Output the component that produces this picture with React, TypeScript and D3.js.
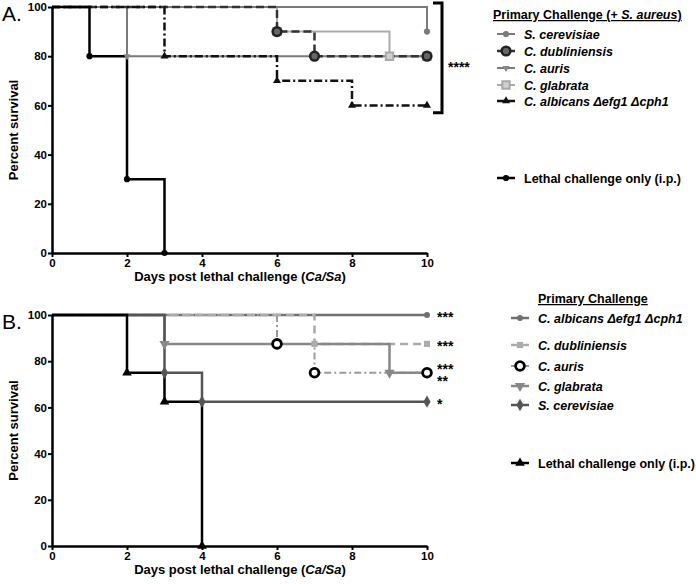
import React, { useEffect, useRef } from "react";
import * as d3 from "d3";

const dayTicks = [0, 2, 4, 6, 8, 10];
const survivalTicks = [0, 20, 40, 60, 80, 100];

// Panel A: day of each event and percent survival after it
const aCerevisiaeDays = [0, 10];
const aCerevisiaeSurv = [100, 90];
const aDublinDays = [0, 6, 7, 10];
const aDublinSurv = [100, 90, 80, 80];
const aAurisDays = [0, 2, 10];
const aAurisSurv = [100, 80, 80];
const aGlabrataDays = [0, 6, 9, 10];
const aGlabrataSurv = [100, 90, 80, 80];
const aAlbicansDays = [0, 3, 6, 8, 10];
const aAlbicansSurv = [100, 80, 70, 60, 60];
const aLethalDays = [0, 1, 2, 3];
const aLethalSurv = [100, 80, 30, 0];

// Panel B
const bAlbicansDays = [0, 10];
const bAlbicansSurv = [100, 100];
const bDublinDays = [0, 7, 10];
const bDublinSurv = [100, 87.5, 87.5];
const bAurisDays = [0, 6, 7, 10];
const bAurisSurv = [100, 87.5, 75, 75];
const bGlabrataDays = [0, 3, 9, 10];
const bGlabrataSurv = [100, 87.5, 75, 75];
const bCerevisiaeDays = [0, 3, 4, 10];
const bCerevisiaeSurv = [100, 75, 62.5, 62.5];
const bLethalDays = [0, 2, 3, 4];
const bLethalSurv = [100, 75, 62.5, 0];

const aNames = ["S. cerevisiae", "C. dubliniensis", "C. auris", "C. glabrata", "C. albicans \u0394efg1 \u0394cph1"];
const bNames = ["C. albicans \u0394efg1 \u0394cph1", "C. dubliniensis", "C. auris", "C. glabrata", "S. cerevisiae"];
const lethalName = "Lethal challenge only (i.p.)";
const bStars = ["***", "***", "***", "**", "*"];
const bStarSurv = [100, 87.5, 75, 75, 62.5];

const FONT = "'Liberation Sans', Arial, sans-serif";

type Series = {
  days: number[];
  surv: number[];
  color: string;
  dash?: string;
  width: number;
  symbol: d3.SymbolType;
  size: number;
  rotate?: number;
  fill: string;
  stroke: string;
  markerWidth: number;
};

const circle = d3.symbolCircle;
const tri = d3.symbolTriangle;

const aSeries: Series[] = [
  { days: aCerevisiaeDays, surv: aCerevisiaeSurv, color: "#7a7a7a", width: 2, symbol: circle, size: 30, fill: "#7a7a7a", stroke: "#7a7a7a", markerWidth: 0 },
  { days: aDublinDays, surv: aDublinSurv, color: "#333", dash: "8,4", width: 2.5, symbol: circle, size: 60, fill: "#666", stroke: "#222", markerWidth: 2.5 },
  { days: aAurisDays, surv: aAurisSurv, color: "#7a7a7a", width: 2, symbol: tri, size: 22, rotate: 180, fill: "#888", stroke: "#888", markerWidth: 0 },
  { days: aGlabrataDays, surv: aGlabrataSurv, color: "#ababab", width: 2, symbol: d3.symbolSquare, size: 55, fill: "#d0d0d0", stroke: "#a8a8a8", markerWidth: 2 },
  { days: aAlbicansDays, surv: aAlbicansSurv, color: "#111", dash: "8,3,2,3", width: 2.5, symbol: tri, size: 28, fill: "#111", stroke: "#111", markerWidth: 0 },
];
const aLethal: Series = { days: aLethalDays, surv: aLethalSurv, color: "#000", width: 2.5, symbol: circle, size: 30, fill: "#000", stroke: "#000", markerWidth: 0 };

const bSeries: Series[] = [
  { days: bAlbicansDays, surv: bAlbicansSurv, color: "#707070", width: 2.5, symbol: circle, size: 28, fill: "#707070", stroke: "#707070", markerWidth: 0 },
  { days: bDublinDays, surv: bDublinSurv, color: "#ababab", dash: "8,5", width: 2.5, symbol: d3.symbolSquare, size: 38, fill: "#ababab", stroke: "#ababab", markerWidth: 0 },
  { days: bAurisDays, surv: bAurisSurv, color: "#9a9a9a", dash: "7,3,2,3", width: 2, symbol: circle, size: 60, fill: "#fff", stroke: "#000", markerWidth: 2.8 },
  { days: bGlabrataDays, surv: bGlabrataSurv, color: "#888", width: 2.5, symbol: tri, size: 45, rotate: 180, fill: "#888", stroke: "#888", markerWidth: 0 },
  { days: bCerevisiaeDays, surv: bCerevisiaeSurv, color: "#555", width: 2.5, symbol: d3.symbolDiamond, size: 45, fill: "#555", stroke: "#555", markerWidth: 0 },
];
const bLethal: Series = { days: bLethalDays, surv: bLethalSurv, color: "#000", width: 2.5, symbol: tri, size: 40, fill: "#000", stroke: "#000", markerWidth: 0 };

// stacking order (indices into the series list, 5 = lethal)
const aLineOrder = [3, 0, 2, 1, 4, 5];
const aMarkerOrder = [3, 0, 2, 4, 1, 5];
const bLineOrder = [0, 2, 1, 3, 4, 5];
const bMarkerOrder = [0, 1, 3, 4, 5, 2];

function drawSymbol(g: any, s: Series, x: number, y: number) {
  g.append("path")
    .attr("d", d3.symbol().type(s.symbol).size(s.size)())
    .attr("transform", `translate(${x},${y}) rotate(${s.rotate || 0})`)
    .attr("fill", s.fill)
    .attr("stroke", s.stroke)
    .attr("stroke-width", s.markerWidth);
}

function drawPanel(svg: any, top: number, bottom: number, series: Series[], lethal: Series, label: string, lineOrder: number[], markerOrder: number[]) {
  const x = d3.scaleLinear().domain([0, 10]).range([52, 427]);
  const y = d3.scaleLinear().domain([0, 100]).range([bottom, top]);
  const g = svg.append("g");

  const all = [...series, lethal];
  lineOrder.forEach((k) => {
    const s = all[k];
    const pts = s.days.map((d, i) => [x(d), y(s.surv[i])] as [number, number]);
    g.append("path")
      .attr("d", d3.line().curve(d3.curveStepAfter)(pts))
      .attr("fill", "none")
      .attr("stroke", s.color)
      .attr("stroke-width", s.width)
      .attr("stroke-dasharray", s.dash || null);
  });
  markerOrder.forEach((k) => {
    const s = all[k];
    s.days.forEach((d, i) => {
      if (i > 0) drawSymbol(g, s, x(d), y(s.surv[i]));
    });
  });

  const yAxis = g
    .append("g")
    .attr("transform", `translate(${x(0)},0)`)
    .call(d3.axisLeft(y).tickValues(survivalTicks).tickSize(4).tickSizeOuter(0));
  const xAxis = g
    .append("g")
    .attr("transform", `translate(0,${y(0)})`)
    .call(d3.axisBottom(x).tickValues(dayTicks).tickSize(4).tickSizeOuter(0));
  [yAxis, xAxis].forEach((ax) => {
    ax.select(".domain").attr("stroke-width", 2.5);
    ax.selectAll(".tick line").attr("stroke-width", 2);
    ax.selectAll("text").attr("font-family", FONT).attr("font-weight", "bold").attr("font-size", 11.5).attr("fill", "#000");
  });
  yAxis.selectAll("text").attr("x", -5);
  xAxis.selectAll("text").attr("y", 6);

  g.append("text")
    .attr("transform", `translate(18,${(top + bottom) / 2}) rotate(-90)`)
    .attr("text-anchor", "middle")
    .attr("font-family", FONT)
    .attr("font-weight", "bold")
    .attr("font-size", 13)
    .text("Percent survival");

  const xt = g
    .append("text")
    .attr("x", 240)
    .attr("y", bottom + 28)
    .attr("text-anchor", "middle")
    .attr("font-family", FONT)
    .attr("font-weight", "bold")
    .attr("font-size", 13);
  xt.append("tspan").text("Days post lethal challenge (");
  xt.append("tspan").attr("font-style", "italic").text("Ca/Sa");
  xt.append("tspan").text(")");

  g.append("text")
    .attr("x", 2)
    .attr("y", top + 14)
    .attr("font-family", FONT)
    .attr("font-size", 21)
    .text(label);

  return { x, y };
}

function drawLegendRow(svg: any, s: Series, x0: number, y0: number, name: string, italic: boolean) {
  const g = svg.append("g");
  g.append("line")
    .attr("x1", x0)
    .attr("x2", x0 + 18)
    .attr("y1", y0)
    .attr("y2", y0)
    .attr("stroke", s.color)
    .attr("stroke-width", s.width);
  drawSymbol(g, s, x0 + 9, y0);
  g.append("text")
    .attr("x", x0 + 27)
    .attr("y", y0 + 4.5)
    .attr("font-family", FONT)
    .attr("font-weight", "bold")
    .attr("font-style", italic ? "italic" : "normal")
    .attr("font-size", 12.5)
    .text(name);
}

export default function App() {
  const ref = useRef<SVGSVGElement>(null);

  useEffect(() => {
    const svg = d3.select(ref.current);
    svg.selectAll("*").remove();

    // Panel A
    const a = drawPanel(svg, 7, 253, aSeries, aLethal, "A.", aLineOrder, aMarkerOrder);
    // significance bracket
    svg
      .append("path")
      .attr("d", `M433,${a.y(100) - 4}H442V${a.y(57)}H433`)
      .attr("fill", "none")
      .attr("stroke", "#000")
      .attr("stroke-width", 3);
    svg
      .append("text")
      .attr("x", 448)
      .attr("y", a.y(76) + 6)
      .attr("font-family", FONT)
      .attr("font-weight", "bold")
      .attr("font-size", 14)
      .text("****");

    const ta = svg
      .append("text")
      .attr("x", 493)
      .attr("y", 19)
      .attr("font-family", FONT)
      .attr("font-weight", "bold")
      .attr("font-size", 12.5)
      .attr("text-decoration", "underline");
    ta.append("tspan").text("Primary Challenge (+ ");
    ta.append("tspan").attr("font-style", "italic").text("S. aureus");
    ta.append("tspan").text(")");
    const aRows = [34, 51, 68, 85, 101];
    aSeries.forEach((s, i) => drawLegendRow(svg, s, 497, aRows[i], aNames[i], true));
    drawLegendRow(svg, aLethal, 497, 178, lethalName, false);

    // Panel B
    const b = drawPanel(svg, 315, 546, bSeries, bLethal, "B.", bLineOrder, bMarkerOrder);
    bStars.forEach((st, i) => {
      const off = i === 2 ? -6 : i === 3 ? 6 : 0;
      svg
        .append("text")
        .attr("x", 437)
        .attr("y", b.y(bStarSurv[i]) + 7 + off)
        .attr("font-family", FONT)
        .attr("font-weight", "bold")
        .attr("font-size", 14)
        .text(st);
    });
    svg
      .append("text")
      .attr("x", 538)
      .attr("y", 303)
      .attr("font-family", FONT)
      .attr("font-weight", "bold")
      .attr("font-size", 12.5)
      .attr("text-decoration", "underline")
      .text("Primary Challenge");
    const bRows = [318, 345, 366, 386, 405];
    bSeries.forEach((s, i) => drawLegendRow(svg, s, 511, bRows[i], bNames[i], true));
    drawLegendRow(svg, bLethal, 511, 463, lethalName, false);
  }, []);

  return (
    <svg
      ref={ref}
      width={696}
      height={584}
      style={{ position: "absolute", left: 0, top: 0, background: "#fff" }}
    />
  );
}
